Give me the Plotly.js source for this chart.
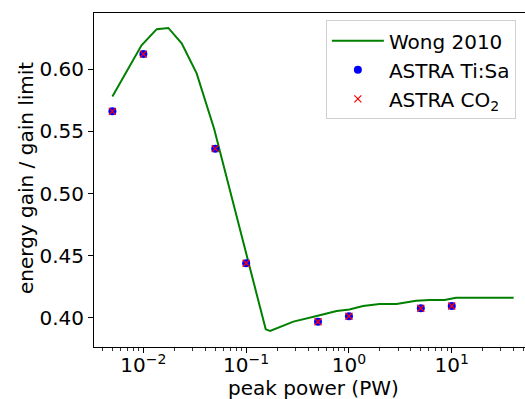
<!DOCTYPE html>
<html>
<head>
<meta charset="utf-8">
<script src="https://cdn.plot.ly/plotly-3.0.1.min.js"></script>
<style>
html, body { margin: 0; padding: 0; overflow: hidden; background: #fff; }
#chart { width: 540px; height: 399px; }
</style>
</head>
<body>
<div id="chart"></div>
<script>
const wongPower = [0.005, 0.0096, 0.0135, 0.0175, 0.0236, 0.033, 0.0488, 0.103, 0.155, 0.171, 0.288, 0.485, 0.76, 1.01, 1.37, 1.99, 2.9, 4.5, 6.1, 8.5, 11, 40];
const wongGain  = [0.578, 0.619, 0.632, 0.633, 0.6206, 0.5965, 0.552, 0.4466, 0.3909, 0.3896, 0.3971, 0.4016, 0.4056, 0.4069, 0.4096, 0.4112, 0.4112, 0.4139, 0.4145, 0.4145, 0.4163, 0.4163];

// ASTRA simulations
const astraPower = [0.005, 0.01, 0.05, 0.1, 0.5, 1, 5, 10];
const tisaGain   = [0.566, 0.612, 0.536, 0.444, 0.397, 0.4014, 0.4078, 0.4096];
const co2Gain    = [0.566, 0.612, 0.536, 0.444, 0.397, 0.4014, 0.4078, 0.4096];

const xTickVals = [0.01, 0.1, 1, 10];
const xTickText = ['10<sup>−2</sup>', '10<sup>−1</sup>', '10<sup>0</sup>', '10<sup>1</sup>'];
const yTickVals = [0.40, 0.45, 0.50, 0.55, 0.60];

const xTitle = 'peak power (PW)';
const yTitle = 'energy gain / gain limit';

const minorVals = [];
for (let e = -3; e <= 1; e++) {
  for (let m = 2; m <= 9; m++) minorVals.push(m * Math.pow(10, e));
}

const font = { family: 'DejaVu Sans', size: 20, color: '#000' };

const traces = [
  { x: wongPower, y: wongGain, mode: 'lines', name: 'Wong 2010',
    line: { color: '#008000', width: 2 } },
  { x: astraPower, y: tisaGain, mode: 'markers', name: 'ASTRA Ti:Sa',
    marker: { color: '#0000ff', size: 8, symbol: 'circle' } },
  { x: astraPower, y: co2Gain, mode: 'markers', name: 'ASTRA CO<sub>2</sub>',
    marker: { color: '#ff0000', size: 7, symbol: 'x-thin', line: { color: '#ff0000', width: 1.2 } } }
];

const layout = {
  width: 540, height: 399,
  margin: { l: 94, r: 6, t: 13, b: 52 },
  paper_bgcolor: '#fff', plot_bgcolor: '#fff',
  font: font,
  showlegend: true,
  legend: {
    x: 0.527, y: 0.978, xanchor: 'left', yanchor: 'top',
    bgcolor: 'rgba(255,255,255,0.8)', bordercolor: '#d0d0d0', borderwidth: 1,
    font: font, tracegroupgap: 0, itemwidth: 52
  },
  xaxis: {
    type: 'log', range: [-2.48, 1.8],
    tickmode: 'array', tickvals: xTickVals, ticktext: xTickText,
    ticks: 'outside', ticklen: 5, tickwidth: 1, tickcolor: '#000',
    ticklabelstandoff: -5,
    minor: { tickmode: 'array', tickvals: minorVals, ticks: 'outside', ticklen: 3, tickwidth: 0.8, tickcolor: '#000' },
    showline: true, linecolor: '#000', linewidth: 1, mirror: true,
    showgrid: false, zeroline: false,
    tickfont: font,
    automargin: false
  },
  yaxis: {
    range: [0.3767, 0.645],
    tickmode: 'array', tickvals: yTickVals, tickformat: '.2f',
    ticks: 'outside', ticklen: 5, tickwidth: 1, tickcolor: '#000',
    showline: true, linecolor: '#000', linewidth: 1, mirror: true,
    showgrid: false, zeroline: false,
    tickfont: font,
    automargin: false
  },
  annotations: [
    { text: xTitle, xref: 'paper', yref: 'paper', x: (313 - 94) / 440, y: (347 - 388) / 334,
      xanchor: 'center', yanchor: 'middle', showarrow: false, font: font },
    { text: yTitle, xref: 'paper', yref: 'paper', x: (26 - 94) / 440, y: (347 - 178) / 334,
      xanchor: 'center', yanchor: 'middle', textangle: -90, showarrow: false, font: font }
  ]
};

Plotly.newPlot('chart', traces, layout, { displayModeBar: false, staticPlot: true });
</script>
</body>
</html>
